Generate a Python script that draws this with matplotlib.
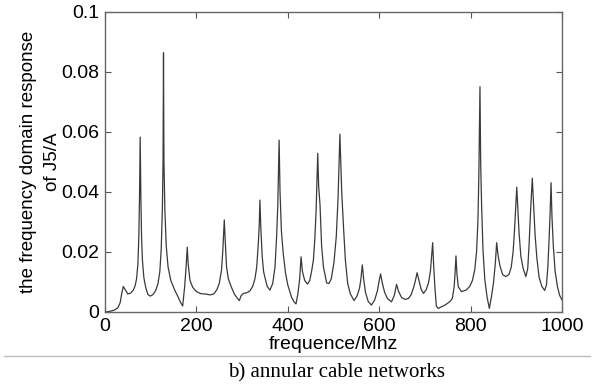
import numpy as np
from matplotlib import pyplot as plt

# frequency (MHz) and response
freq = [0, 10, 20, 28, 33, 37, 40, 44, 50, 56, 62,
        66, 69, 72, 74, 75.5, 77, 78.5, 80, 82, 85, 89, 94, 99,
        105, 111, 116, 120, 123, 125.5, 127, 128, 129, 131, 134, 138, 144, 152,
        160, 166, 170, 174, 177, 180, 182, 186, 192, 200, 210, 220, 230, 238,
        245, 250, 255, 258, 261, 263, 266, 270, 276, 283, 290, 294, 298, 303,
        310, 317, 323, 328, 332, 335.5, 337.5, 339, 341, 344, 347, 350, 355, 361,
        367, 372, 375.5, 378, 381, 383, 386, 390, 395, 400, 408, 414, 418,
        422, 426, 429, 432, 437, 443, 448, 452, 456, 459, 462, 465.5, 467.5,
        470.5, 474, 478, 485, 490, 495, 501, 506, 510, 514, 518, 522, 526,
        531, 537, 545, 552, 557, 560, 563, 566, 570, 576, 583, 590, 596, 600,
        603, 607, 612, 618, 627, 633, 638, 642, 649, 657, 664, 670, 676, 680,
        683, 687, 692, 697, 703, 708, 712, 715, 717, 719, 722, 725, 729, 744,
        755, 760, 764, 766, 768, 770, 773, 780, 790, 798, 804, 809, 813, 816,
        818, 820.5, 822, 824, 827, 831, 836, 841, 845, 850, 854, 857, 860, 864,
        870, 877, 884, 889, 893, 896, 898.5, 901, 903.5, 906, 910, 915, 921,
        925, 928, 931, 935, 938, 941, 945, 950, 956, 962, 966, 969, 972, 974,
        976, 978, 981, 985, 990, 995, 1000]
resp = [0.0, 0.0002, 0.0006, 0.0014, 0.003, 0.0065, 0.0085, 0.0075, 0.006, 0.0063, 0.0073,
        0.0088, 0.011, 0.016, 0.025, 0.038, 0.0583, 0.038, 0.025, 0.017, 0.0115, 0.0082, 0.0058, 0.0053,
        0.0058, 0.0072, 0.0095, 0.0135, 0.021, 0.034, 0.05, 0.0864, 0.05, 0.034, 0.022, 0.015, 0.0105, 0.0075,
        0.005, 0.003, 0.002, 0.008, 0.014, 0.0216, 0.016, 0.0105, 0.0082, 0.0068, 0.0061, 0.006, 0.0057, 0.006,
        0.0075, 0.0095, 0.014, 0.021, 0.0307, 0.024, 0.015, 0.011, 0.0085, 0.006, 0.0045, 0.0038, 0.0055, 0.0062,
        0.0064, 0.007, 0.0085, 0.011, 0.015, 0.0229, 0.029, 0.0373, 0.028, 0.0185, 0.0135, 0.0115, 0.0085, 0.0073,
        0.0095, 0.015, 0.0251, 0.035, 0.0573, 0.04, 0.027, 0.0195, 0.013, 0.009, 0.005, 0.0033, 0.0027,
        0.006, 0.011, 0.0184, 0.0135, 0.0105, 0.0093, 0.0105, 0.0135, 0.0173, 0.024, 0.034, 0.0529, 0.042,
        0.0357, 0.022, 0.015, 0.0097, 0.0095, 0.011, 0.0165, 0.025, 0.038, 0.0593, 0.04, 0.028, 0.0173,
        0.0095, 0.006, 0.0038, 0.0055, 0.008, 0.011, 0.0157, 0.011, 0.0065, 0.0035, 0.0023, 0.004, 0.007, 0.0105,
        0.0127, 0.0095, 0.0065, 0.0045, 0.0034, 0.0055, 0.0092, 0.007, 0.0048, 0.0042, 0.0045, 0.0058, 0.0085, 0.011,
        0.0131, 0.0105, 0.0075, 0.0062, 0.0075, 0.0098, 0.0135, 0.019, 0.0231, 0.016, 0.008, 0.002, 0.0012, 0.0023,
        0.0035, 0.0045, 0.0084, 0.013, 0.0187, 0.013, 0.0084, 0.0068, 0.0073, 0.0085, 0.0105, 0.014, 0.02, 0.03,
        0.045, 0.0751, 0.05, 0.036, 0.021, 0.011, 0.005, 0.0012, 0.0045, 0.0096, 0.016, 0.0231, 0.019, 0.0155,
        0.0125, 0.0118, 0.0125, 0.015, 0.02, 0.027, 0.034, 0.0416, 0.034, 0.0265, 0.0185, 0.0145, 0.0118,
        0.0145, 0.0225, 0.033, 0.0446, 0.035, 0.026, 0.018, 0.0115, 0.0085, 0.0072, 0.009, 0.015, 0.025, 0.033,
        0.0431, 0.032, 0.022, 0.0135, 0.0085, 0.0055, 0.004]

x_ticks = [0, 200, 400, 600, 800, 1000]
y_ticks = [0, 0.02, 0.04, 0.06, 0.08, 0.1]
y_tick_labels = ['0', '0.02', '0.04', '0.06', '0.08', '0.1']

plt.rcParams['font.family'] = ['Liberation Sans', 'DejaVu Sans']

fig = plt.figure(figsize=(5.97, 3.87), dpi=100)
ax = fig.add_axes([105/597, 75/387, 457/597, 300/387])

ax.plot(freq, resp, color='#3a3a3a', lw=0.9)
ax.set_xlim(0, 1000)
ax.set_ylim(0, 0.1)
ax.set_xticks(x_ticks)
ax.set_xticklabels([str(t) for t in x_ticks])
ax.set_yticks(y_ticks)
ax.set_yticklabels(y_tick_labels)
ax.tick_params(direction='in', top=True, right=True, length=4,
               labelsize=14, color='#555555', pad=4)
for s in ax.spines.values():
    s.set_color('#666666')
    s.set_linewidth(1.0)

ax.set_xlabel('frequence/Mhz', fontsize=14, labelpad=1)
ax.set_ylabel('the frequency domain response\nof J5/A', fontsize=13.5,
              labelpad=0, linespacing=1.55)

# caption under the chart
fig.add_artist(plt.Line2D([4/597, 590/597], [1 - 356/387] * 2,
                          color='#bbbbbb', lw=1))
fig.text(337/597, 1 - 373/387, 'b) annular cable networks',
         family='Liberation Serif', fontsize=15, ha='center', va='center')

fig.savefig('out.png', dpi=100)
